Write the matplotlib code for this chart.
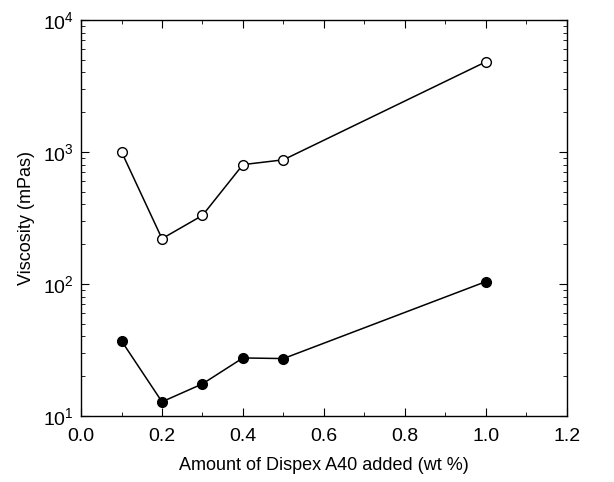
import numpy as np, matplotlib
matplotlib.use('Agg')
import matplotlib.pyplot as plt
from matplotlib.ticker import LogLocator, MultipleLocator, NullFormatter

# wt % of Dispex A40 added
dispex = [0.1, 0.2, 0.3, 0.4, 0.5, 1.0]
# viscosity (mPas), open circles (upper series)
visc_open = [1000, 220, 330, 800, 870, 4800]
# viscosity (mPas), filled circles (lower series)
visc_filled = [37, 12.8, 17.5, 27.5, 27.2, 104]

plt.rcParams['font.family'] = ['Liberation Sans', 'DejaVu Sans']

fig = plt.figure(figsize=(6.14, 4.82), dpi=100)
ax = fig.add_axes([0.132, 0.137, 0.791, 0.822])

ax.plot(dispex, visc_open, '-o', color='black', mfc='white', mec='black',
        ms=7, lw=1.1, mew=1.0)
ax.plot(dispex, visc_filled, '-o', color='black', ms=7, lw=1.1)

ax.set_yscale('log')
ax.set_xlim(0, 1.2)
ax.set_ylim(10, 1e4)
ax.xaxis.set_major_locator(MultipleLocator(0.2))
ax.xaxis.set_minor_locator(MultipleLocator(0.1))
ax.yaxis.set_major_locator(LogLocator(base=10))
ax.yaxis.set_minor_locator(LogLocator(base=10, subs=np.arange(2, 10)))
ax.yaxis.set_minor_formatter(NullFormatter())
ax.xaxis.set_major_formatter(plt.FuncFormatter(lambda v, p: f'{v:.1f}'))

ax.tick_params(which='both', direction='in', top=True, right=True, labelsize=14)
ax.tick_params(which='major', length=6)
ax.tick_params(which='minor', length=3)
ax.tick_params(axis='x', which='major', pad=9)
ax.tick_params(axis='y', which='major', pad=5)
for s in ax.spines.values():
    s.set_linewidth(1.0)

ax.set_xlabel('Amount of Dispex A40 added (wt %)', fontsize=13, labelpad=8)
ax.set_ylabel('Viscosity (mPas)', fontsize=13, labelpad=6)

fig.savefig('out.png', dpi=100)
